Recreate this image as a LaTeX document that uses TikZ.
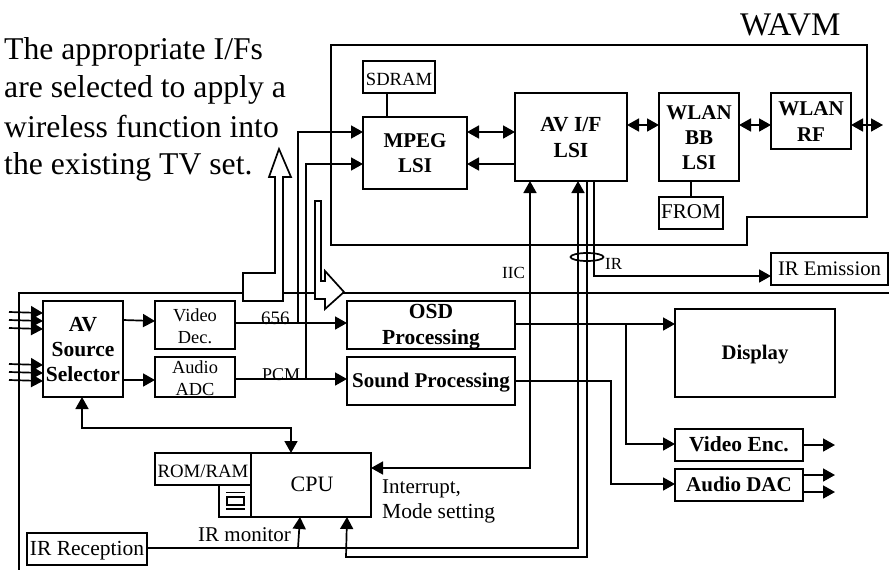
\documentclass[tikz,border=0pt]{standalone}
\usepackage{fontspec}
\setmainfont{Liberation Serif}
\usetikzlibrary{arrows.meta,shapes.geometric}
\newcommand\fs[2]{\fontsize{#1}{#2}\selectfont}
\newcommand\bx[8]{\pgfmathsetmacro\dy{(#3+#5)/2-#7}%
\node[box,minimum width={#4-#2},minimum height={#5-#3}] (#1) at ({(#2+#4)/2},{(#3+#5)/2})
 {\raisebox{\dy pt}[0pt][0pt]{\makebox[0pt]{#6\begin{tabular}[t]{@{}c@{}}#8\end{tabular}}}};}
\tikzset{
 box/.style={draw,fill=white,line width=1.7pt,inner sep=0pt,outer sep=0pt},
 wire/.style={line width=1.7pt},
 arr/.style={wire,-{Triangle[length=12pt,width=13pt]}},
 dbl/.style={wire,{Triangle[length=12pt,width=13pt]}-{Triangle[length=12pt,width=13pt]}},
 hollow/.style={line width=1.7pt,fill=white,line join=miter},
 txt/.style={inner sep=0pt,anchor=base west},
}
\begin{document}
\begin{tikzpicture}[x=1pt,y=-1pt]
\useasboundingbox (0,0) rectangle (889,571);
% outlines
\coordinate (wa) at (331,45);
\draw[wire] (wa) -- (867,45) -- (867,217) -- (747,217) -- (747,245) -- (331,245) -- cycle;
\coordinate (tvA) at (889,293); \coordinate (tvB) at (19,293); \coordinate (tvC) at (19,570);
\draw[wire] (tvA) -- (tvB) -- (tvC);
% hollow arrows
\draw[hollow] (279,149) -- (291,177) -- (283,177) -- (283,301) -- (243,301) -- (243,273) -- (275,273) -- (275,177) -- (269,177) -- cycle;
\draw[hollow] (315,201) -- (321,201) -- (321,281) -- (325,281) -- (325,271) -- (344,292) -- (325,309) -- (325,299) -- (315,299) -- cycle;
% boxes
\bx{sdram}{363}{61}{435}{93}{\fs{18.6}{22}}{85}{SDRAM}
\bx{mpeg}{363}{117}{467}{189}{\fs{21}{25}\bfseries}{147}{MPEG\\LSI}
\bx{avif}{515}{93}{627}{181}{\fs{21.5}{26}\bfseries}{131}{AV I/F\\LSI}
\bx{bb}{659}{93}{739}{181}{\fs{21}{25}\bfseries}{119}{WLAN\\BB\\LSI}
\bx{rf}{771}{93}{851}{149}{\fs{21}{26}\bfseries}{115}{WLAN\\RF}
\bx{from}{659}{197}{723}{229}{\fs{21}{25}}{218}{FROM}
\bx{irem}{771}{253}{888}{285}{\fs{20.7}{25}}{275}{IR Emission}
\bx{sel}{43}{301}{123}{397}{\fs{21.5}{25}\bfseries}{331}{AV\\Source\\Selector}
\bx{vdec}{155}{301}{235}{349}{\fs{18.4}{22}}{321}{Video\\Dec.}
\bx{aadc}{155}{357}{235}{397}{\fs{18.4}{22}}{373}{Audio\\ADC}
\bx{osd}{347}{301}{515}{349}{\fs{21.5}{26}\bfseries}{318}{OSD\\Processing}
\bx{snd}{347}{357}{515}{405}{\fs{21}{25}\bfseries}{387}{Sound Processing}
\bx{disp}{675}{309}{835}{397}{\fs{20.7}{25}\bfseries}{359}{Display}
\bx{venc}{675}{429}{803}{461}{\fs{21.5}{25}\bfseries}{451}{Video Enc.}
\bx{adac}{675}{469}{803}{501}{\fs{21}{25}\bfseries}{491}{Audio DAC}
\bx{cpu}{251}{453}{371}{517}{\fs{22}{26}\hspace*{2pt}}{491}{CPU}
\bx{rom}{155}{453}{251}{485}{\fs{18.8}{22}}{477}{ROM/RAM}
\node[box,minimum width=32,minimum height=32] (cap) at (235,501) {};
\bx{irr}{27}{533}{147}{565}{\fs{21.5}{25}}{555}{IR Reception}
% icon in the small box
\draw[line width=1.3pt] (226,492.7) -- (245,492.7) (227,497) rectangle (244,505) (226,509) -- (245,509);
% labels
\node[txt] (t1) at (4,59) {\fs{31.7}{38}The appropriate I/Fs};
\node[txt] (t2) at (4,97) {\fs{31.7}{38}are selected to apply a};
\node[txt] (t3) at (4,137) {\fs{31.7}{38}wireless function into};
\node[txt] (t4) at (4,174) {\fs{31.7}{38}the existing TV set.};
\node[txt] (wavm) at (740,35) {\fs{33}{38}WAVM};
\node[txt] (l656) at (261,324) {\fs{19}{22}656};
\node[txt] (lpcm) at (262,380) {\fs{18}{22}PCM};
\node[txt] (liic) at (502,278) {\fs{17}{20}IIC};
\node[txt] (lir) at (605,269) {\fs{17}{20}IR};
\node[txt] (lirm) at (198,541) {\fs{21}{24}IR monitor};
\node[txt] (lint) at (382,493) {\fs{21}{24}Interrupt,};
\node[txt] (lmode) at (382,518) {\fs{21.5}{24}Mode setting};
% stubs
\draw[wire] (sdram.south -| 387,0) -- (mpeg.north -| 387,0);
\draw[wire] (bb.south -| 691,0) -- (from.north -| 691,0);
% MPEG / AV / WLAN
\draw[dbl] (mpeg.east |- 0,132) -- (avif.west |- 0,132);
\draw[arr] (avif.west |- 0,164) -- (mpeg.east |- 0,164);
\draw[dbl] (avif.east |- 0,125) -- (bb.west |- 0,125);
\draw[dbl] (bb.east |- 0,125) -- (rf.west |- 0,125);
\coordinate (rfout) at (883,125);
\draw[dbl] (rf.east |- 0,125) -- (rfout);
% feeds
\draw[arr] (vdec.east |- 0,323) -- (osd.west |- 0,323);
\draw[arr] (aadc.east |- 0,379) -- (snd.west |- 0,379);
\coordinate (j1) at (298,323); \coordinate (j2) at (306,379);
\draw[arr] (j1) -- (298,132) -- (mpeg.west |- 0,132);
\draw[arr] (j2) -- (306,164) -- (mpeg.west |- 0,164);
% selector
\coordinate (a1) at (9,312); \coordinate (a2) at (9,320); \coordinate (a3) at (9,328);
\coordinate (a4) at (9,364); \coordinate (a5) at (9,372); \coordinate (a6) at (9,380);
\draw[arr] (a1) -- (sel.west |- 0,313);
\draw[arr] (a2) -- (sel.west |- 0,321);
\draw[arr] (a3) -- (sel.west |- 0,329);
\draw[arr] (a4) -- (sel.west |- 0,365);
\draw[arr] (a5) -- (sel.west |- 0,373);
\draw[arr] (a6) -- (sel.west |- 0,381);
\draw[arr] (sel.east |- 0,320) -- (vdec.west |- 0,321);
\draw[arr] (sel.east |- 0,380) -- (aadc.west |- 0,380);
\draw[dbl] (sel.south -| 82,0) -- (82,428) -- (291,428) -- (cpu.north -| 291,0);
% AV LSI to CPU
\draw[dbl] (avif.south -| 530,0) -- (530,468) -- (cpu.east |- 0,468);
\draw[arr] (irr.east |- 0,548) -- (578,548) -- (avif.south -| 578,0);
\draw[arr] (avif.south -| 587,0) -- (587,557) -- (346,557) -- (cpu.south -| 347,0);
\coordinate (irj) at (298,548);
\draw[arr] (irj) -- (cpu.south -| 300,0);
\draw[arr] (avif.south -| 594,0) -- (594,276) -- (irem.west |- 0,276);
\node[draw,line width=1.7pt,ellipse,minimum width=33,minimum height=8,inner sep=0pt] (ring) at (587,257) {};
% outputs
\coordinate (j3) at (626,324);
\draw[arr] (osd.east |- 0,324) -- (disp.west |- 0,324);
\draw[arr] (j3) -- (626,444) -- (venc.west |- 0,444);
\draw[arr] (snd.east |- 0,381) -- (611,381) -- (611,484) -- (adac.west |- 0,484);
\coordinate (o1) at (835,445); \coordinate (o2) at (835,475); \coordinate (o3) at (835,492);
\draw[arr] (venc.east |- 0,445) -- (o1);
\draw[arr] (adac.east |- 0,475) -- (o2);
\draw[arr] (adac.east |- 0,492) -- (o3);
\end{tikzpicture}
\end{document}
